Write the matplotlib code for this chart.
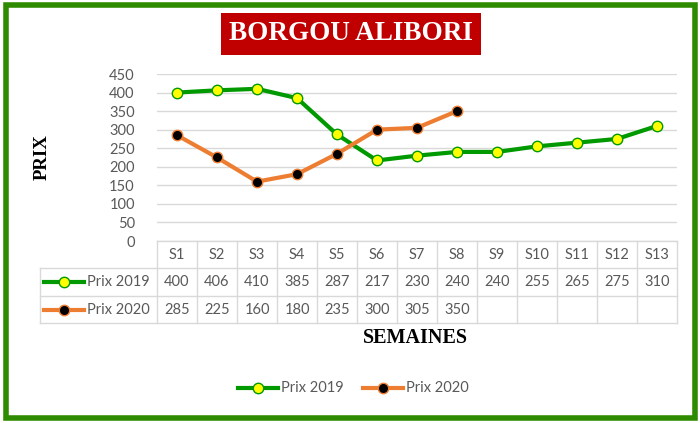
import matplotlib
matplotlib.use("Agg")
import matplotlib.pyplot as plt
from matplotlib.patches import Rectangle
from matplotlib.lines import Line2D

weeks = ["S1", "S2", "S3", "S4", "S5", "S6", "S7", "S8", "S9", "S10", "S11", "S12", "S13"]
prix_2019 = [400, 406, 410, 385, 287, 217, 230, 240, 240, 255, 265, 275, 310]
prix_2020 = [285, 225, 160, 180, 235, 300, 305, 350]
series_names = ["Prix 2019", "Prix 2020"]
yticks = [0, 50, 100, 150, 200, 250, 300, 350, 400, 450]

W, H = 700, 423
fig = plt.figure(figsize=(W / 100, H / 100), dpi=100)
fig.patch.set_facecolor("white")

SANS = ["Lato", "DejaVu Sans"]
SERIF = ["Liberation Serif", "DejaVu Serif"]
GREY = "#595959"
GRID = "#D9D9D9"
GREEN = "#009900"
ORANGE = "#ED7D31"

def fx(px):
    return px / W

def fy(py):
    return 1 - py / H

# plot area
x_left, x_right = 157, 677
y_zero, y_top = 241, 74
ax = fig.add_axes([fx(x_left), fy(y_zero), fx(x_right) - fx(x_left), fy(y_top) - fy(y_zero)])
ax.set_xlim(-0.5, len(weeks) - 0.5)
ax.set_ylim(0, 450)
for s in ax.spines.values():
    s.set_visible(False)
ax.set_xticks([])
ax.set_yticks(yticks)
ax.tick_params(axis="y", length=0, pad=16, labelsize=10.5, labelcolor=GREY)
for lab in ax.get_yticklabels():
    lab.set_family(SANS)
ax.yaxis.grid(True, color=GRID, linewidth=1)
ax.set_axisbelow(True)

x19 = list(range(len(prix_2019)))
x20 = list(range(len(prix_2020)))
style19 = dict(color=GREEN, linewidth=3, marker="o", markersize=7.5,
               markerfacecolor="#FFFF00", markeredgecolor=GREEN, markeredgewidth=1)
style20 = dict(color=ORANGE, linewidth=3, marker="o", markersize=7.5,
               markerfacecolor="black", markeredgecolor=ORANGE, markeredgewidth=1)
ax.plot(x19, prix_2019, **style19, zorder=3)
ax.plot(x20, prix_2020, **style20, zorder=3)

# data table
col_w = (x_right - x_left) / len(weeks)
row_y = [241, 268, 296, 323]
tab_left = 40
tcol = "#D9D9D9"
fig.add_artist(Line2D([fx(x_left), fx(x_right)], [fy(row_y[0])] * 2, color=tcol, lw=1))
for yy in row_y[1:]:
    fig.add_artist(Line2D([fx(tab_left), fx(x_right)], [fy(yy)] * 2, color=tcol, lw=1))
for k in range(len(weeks) + 1):
    xx = x_left + k * col_w
    fig.add_artist(Line2D([fx(xx)] * 2, [fy(row_y[0]), fy(row_y[3])], color=tcol, lw=1))
fig.add_artist(Line2D([fx(tab_left)] * 2, [fy(row_y[1]), fy(row_y[3])], color=tcol, lw=1))

for i, w in enumerate(weeks):
    cx = x_left + (i + 0.5) * col_w
    fig.text(fx(cx), fy((row_y[0] + row_y[1]) / 2), w, ha="center", va="center",
             fontsize=10.5, color=GREY, family=SANS)
for r, (vals, st, name) in enumerate([(prix_2019, style19, series_names[0]),
                                       (prix_2020, style20, series_names[1])]):
    cy = (row_y[r + 1] + row_y[r + 2]) / 2
    for i, v in enumerate(vals):
        cx = x_left + (i + 0.5) * col_w
        fig.text(fx(cx), fy(cy), str(v), ha="center", va="center",
                 fontsize=10.5, color=GREY, family=SANS)
    fig.add_artist(Line2D([fx(44), fx(84)], [fy(cy)] * 2, **{k: v for k, v in st.items() if k != "marker"}))
    fig.add_artist(Line2D([fx(64)], [fy(cy)], linestyle="none",
                          **{k: v for k, v in st.items() if k not in ("color", "linewidth")}))
    fig.text(fx(87), fy(cy), name, ha="left", va="center", fontsize=10.5, color=GREY, family=SANS)

# axis titles
fig.text(fx(42), fy(157), "PRIX", rotation=90, ha="center", va="center",
         fontsize=13.5, fontweight="bold", family=SERIF, color="black")
fig.text(fx(415), fy(338), "SEMAINES", ha="center", va="center",
         fontsize=14.5, fontweight="bold", family=SERIF, color="black")

# chart title
fig.text(fx(351), fy(34), "BORGOU ALIBORI", ha="center", va="center",
         fontsize=19.5, fontweight="bold", family=SERIF, color="white",
         bbox=dict(boxstyle="square,pad=0.3", facecolor="#C00000", edgecolor="none"))

# bottom legend
leg_y = 388
for (x0, st, name) in [(238, style19, series_names[0]), (363, style20, series_names[1])]:
    fig.add_artist(Line2D([fx(x0), fx(x0 + 40)], [fy(leg_y)] * 2, **{k: v for k, v in st.items() if k != "marker"}))
    fig.add_artist(Line2D([fx(x0 + 20)], [fy(leg_y)], linestyle="none",
                          **{k: v for k, v in st.items() if k not in ("color", "linewidth")}))
    fig.text(fx(x0 + 43), fy(leg_y), name, ha="left", va="center", fontsize=10.5, color=GREY, family=SANS)

# outer green frame
fig.add_artist(Rectangle((fx(5.5), fy(418)), fx(694.5) - fx(5.5), fy(5.5) - fy(418),
                         transform=fig.transFigure, fill=False, edgecolor="#2E8B00", linewidth=4))

fig.savefig("out.png", dpi=100, facecolor="white")
